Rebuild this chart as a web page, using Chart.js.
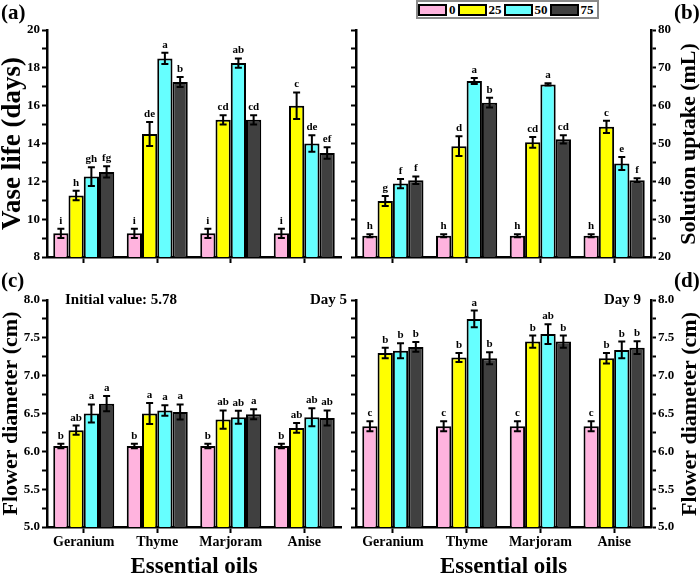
<!DOCTYPE html>
<html lang="en">
<head>
<meta charset="UTF-8">
<title>Essential oils – vase life, uptake and flower diameter</title>
<script src="https://cdn.jsdelivr.net/npm/chart.js"></script>
<style>
  body { margin: 0; background: #fff; }
  #wrap { position: relative; width: 700px; height: 575px; font-family: "Liberation Serif", serif; font-weight: bold; color: #000; }
  #wrap canvas { position: absolute; }
  .plab { position: absolute; font-size: 21px; line-height: 21px; }
  #legend { position: absolute; left: 416px; top: 0; height: 15px; border: 2px solid #8a8a8a; background: #fff;
            display: flex; align-items: center; font-size: 13px; padding-right: 1px; }
  #legend .sw { width: 25px; height: 8px; border: 2px solid #000; margin-right: 2px; }
  #legend .lt { margin-right: 2px; }
</style>
</head>
<body>
<div id="wrap">
  <canvas id="chartA" width="350" height="280" style="left:0;top:0"></canvas>
  <canvas id="chartB" width="350" height="280" style="left:350px;top:0"></canvas>
  <canvas id="chartC" width="350" height="295" style="left:0;top:280px"></canvas>
  <canvas id="chartD" width="350" height="295" style="left:350px;top:280px"></canvas>
  <div class="plab" style="left:1px;top:2px">(a)</div>
  <div class="plab" style="left:674px;top:2px">(b)</div>
  <div class="plab" style="left:1px;top:270px">(c)</div>
  <div class="plab" style="left:674px;top:270px">(d)</div>
  <div id="legend"></div>
</div>

<script>
    // categories and series (one inner array per concentration, across the oils)
    const oils = ['Geranium', 'Thyme', 'Marjoram', 'Anise'];
    const concentrations = ['0', '25', '50', '75'];
    const fills = ['#FFB3DE', '#FFFF00', '#66FFFF', '#404040'];

    const vaseLife = [
        [9.25, 9.25, 9.25, 9.25],
        [11.25, 14.5, 15.25, 16.0],
        [12.25, 18.5, 18.25, 14.0],
        [12.5, 17.25, 15.25, 13.5]
    ];
    const vaseLifeErr = [
        [0.25, 0.25, 0.25, 0.25],
        [0.25, 0.63, 0.25, 0.7],
        [0.5, 0.3, 0.25, 0.43],
        [0.3, 0.26, 0.25, 0.3]
    ];
    const vaseLifeLetters = [
        ['i', 'i', 'i', 'i'],
        ['h', 'de', 'cd', 'c'],
        ['gh', 'a', 'ab', 'de'],
        ['fg', 'b', 'cd', 'ef']
    ];

    const uptake = [
        [25.6, 25.6, 25.6, 25.6],
        [34.8, 49.3, 50.3, 54.4],
        [39.4, 66.5, 65.6, 44.7],
        [40.3, 60.8, 51.1, 40.3]
    ];
    const uptakeErr = [
        [0.4, 0.4, 0.4, 0.4],
        [1.3, 2.6, 1.45, 1.6],
        [1.2, 0.8, 0.3, 1.7],
        [1.0, 1.3, 1.1, 0.5]
    ];
    const uptakeLetters = [
        ['h', 'h', 'h', 'h'],
        ['g', 'd', 'cd', 'c'],
        ['f', 'a', 'a', 'e'],
        ['f', 'b', 'cd', 'f']
    ];

    const diamDay5 = [
        [6.07, 6.07, 6.07, 6.07],
        [6.28, 6.5, 6.42, 6.31],
        [6.5, 6.54, 6.45, 6.45],
        [6.63, 6.52, 6.49, 6.44]
    ];
    const diamDay5Err = [
        [0.03, 0.03, 0.03, 0.03],
        [0.06, 0.14, 0.12, 0.066],
        [0.12, 0.07, 0.085, 0.12],
        [0.1, 0.1, 0.065, 0.1]
    ];
    const diamDay5Letters = [
        ['b', 'b', 'b', 'b'],
        ['ab', 'a', 'ab', 'ab'],
        ['a', 'a', 'ab', 'ab'],
        ['a', 'a', 'a', 'ab']
    ];

    const diamDay9 = [
        [6.33, 6.33, 6.33, 6.33],
        [7.3, 7.24, 7.45, 7.23],
        [7.33, 7.75, 7.55, 7.34],
        [7.38, 7.23, 7.45, 7.37]
    ];
    const diamDay9Err = [
        [0.066, 0.066, 0.066, 0.066],
        [0.07, 0.06, 0.08, 0.07],
        [0.1, 0.11, 0.13, 0.11],
        [0.065, 0.08, 0.08, 0.085]
    ];
    const diamDay9Letters = [
        ['c', 'c', 'c', 'c'],
        ['b', 'b', 'b', 'b'],
        ['b', 'a', 'ab', 'b'],
        ['b', 'b', 'b', 'b']
    ];

    const FONT = '"Liberation Serif", serif';

    // error bars + significance letters
    const errorBars = {
        id: 'errorBars',
        afterDatasetsDraw(chart, args, opts) {
            if (!opts.err) return;
            const ctx = chart.ctx;
            const ys = chart.scales.y;
            ctx.save();
            ctx.strokeStyle = '#000';
            ctx.fillStyle = '#000';
            ctx.lineWidth = 2;
            ctx.font = 'bold 11px ' + FONT;
            ctx.textAlign = 'center';
            ctx.textBaseline = 'alphabetic';
            chart.data.datasets.forEach((ds, i) => {
                chart.getDatasetMeta(i).data.forEach((bar, j) => {
                    const v = ds.data[j], e = opts.err[i][j];
                    const yt = ys.getPixelForValue(v + e);
                    const yb = ys.getPixelForValue(v - e);
                    const x = bar.x;
                    ctx.beginPath();
                    ctx.moveTo(x, yt); ctx.lineTo(x, yb);
                    ctx.moveTo(x - 3.5, yt); ctx.lineTo(x + 3.5, yt);
                    ctx.moveTo(x - 3.5, yb); ctx.lineTo(x + 3.5, yb);
                    ctx.stroke();
                    ctx.fillText(opts.letters[i][j], x, yt - 5);
                });
            });
            ctx.restore();
        }
    };

    // free text (right-hand axis titles, notes)
    const panelText = {
        id: 'panelText',
        afterDraw(chart, args, opts) {
            if (!opts.items) return;
            const ctx = chart.ctx;
            opts.items.forEach(t => {
                ctx.save();
                ctx.translate(t.x, t.y);
                if (t.rotate) ctx.rotate(t.rotate);
                ctx.font = t.font;
                ctx.fillStyle = '#000';
                ctx.textAlign = t.align || 'center';
                ctx.textBaseline = 'middle';
                ctx.fillText(t.text, 0, 0);
                ctx.restore();
            });
        }
    };

    Chart.register(errorBars, panelText);

    function isMajor(v, major) {
        return Math.abs(v / major - Math.round(v / major)) < 1e-6;
    }

    function makePanel(id, p) {
        const datasets = concentrations.map((c, i) => ({
            label: c,
            data: p.values[i],
            backgroundColor: fills[i],
            borderColor: '#000',
            borderWidth: 2,
            borderSkipped: false,
            categoryPercentage: 0.83,
            barPercentage: 1,
            yAxisID: 'y'
        }));

        const border = { color: '#000', width: 2.5 };
        const grid = { drawOnChartArea: false, tickColor: '#000', tickLength: 5, tickWidth: 2 };

        const scales = {
            x: {
                type: 'category',
                border: border,
                grid: { drawOnChartArea: false, offset: false, tickColor: '#000', tickLength: 6, tickWidth: 2 },
                ticks: { display: p.showX, color: '#000', padding: 1, font: { family: FONT, size: 14, weight: 'bold' } },
                title: { display: p.showX, text: 'Essential oils', color: '#000', padding: { top: 0, bottom: -4 },
                         font: { family: FONT, size: 23, weight: 'bold', lineHeight: 1 } },
                afterFit: s => { s.height = p.xHeight; }
            },
            y: {
                position: p.side,
                min: p.min, max: p.max,
                border: border,
                grid: grid,
                ticks: {
                    stepSize: p.minor, color: '#000', padding: 2,
                    font: { family: FONT, size: 13, weight: 'bold' },
                    callback: v => isMajor(v, p.major) ? v.toFixed(p.decimals) : ''
                },
                title: { display: p.side === 'left', text: p.yTitle, color: '#000', padding: 0,
                         font: { family: FONT, size: p.yTitleSize, weight: 'bold', lineHeight: 1 } },
                afterFit: s => { s.width = p.side === 'left' ? 47 : 49; }
            }
        };
        if (p.side === 'right') {
            scales.yL = {
                position: 'left',
                min: p.min, max: p.max,
                border: border,
                grid: grid,
                ticks: { display: false, stepSize: p.minor },
                afterFit: s => { s.width = 6; }
            };
        }

        return new Chart(document.getElementById(id), {
            type: 'bar',
            data: { labels: oils, datasets: datasets },
            options: {
                responsive: false,
                animation: false,
                layout: { padding: { left: 0, top: p.top, right: p.side === 'left' ? 9 : 0, bottom: 0 } },
                scales: scales,
                plugins: {
                    legend: { display: false },
                    tooltip: { enabled: false },
                    errorBars: { err: p.err, letters: p.letters },
                    panelText: { items: p.texts }
                }
            }
        });
    }

    makePanel('chartA', {
        values: vaseLife, err: vaseLifeErr, letters: vaseLifeLetters,
        side: 'left', min: 8, max: 20, minor: 1, major: 2, decimals: 0,
        yTitle: 'Vase life (days)', yTitleSize: 27,
        top: 30, xHeight: 23, showX: false, texts: []
    });

    makePanel('chartB', {
        values: uptake, err: uptakeErr, letters: uptakeLetters,
        side: 'right', min: 20, max: 80, minor: 5, major: 10, decimals: 0,
        top: 30, xHeight: 23, showX: false,
        texts: [{ text: 'Solution uptake (mL)', x: 339, y: 144, rotate: -Math.PI / 2, font: 'bold 22px ' + FONT }]
    });

    makePanel('chartC', {
        values: diamDay5, err: diamDay5Err, letters: diamDay5Letters,
        side: 'left', min: 5, max: 8, minor: 0.25, major: 0.5, decimals: 1,
        yTitle: 'Flower diameter (cm)', yTitleSize: 22,
        top: 20, xHeight: 48, showX: true,
        texts: [
            { text: 'Initial value: 5.78', x: 65, y: 20, align: 'left', font: 'bold 15px ' + FONT },
            { text: 'Day 5', x: 347, y: 20, align: 'right', font: 'bold 15px ' + FONT }
        ]
    });

    makePanel('chartD', {
        values: diamDay9, err: diamDay9Err, letters: diamDay9Letters,
        side: 'right', min: 5, max: 8, minor: 0.25, major: 0.5, decimals: 1,
        top: 20, xHeight: 48, showX: true,
        texts: [
            { text: 'Day 9', x: 291, y: 20, align: 'right', font: 'bold 15px ' + FONT },
            { text: 'Flower diameter (cm)', x: 340, y: 134, rotate: -Math.PI / 2, font: 'bold 22px ' + FONT }
        ]
    });

    // legend
    const legend = document.getElementById('legend');
    concentrations.forEach((c, i) => {
        const sw = document.createElement('span');
        sw.className = 'sw';
        sw.style.background = fills[i];
        const lt = document.createElement('span');
        lt.className = 'lt';
        lt.textContent = c;
        legend.appendChild(sw);
        legend.appendChild(lt);
    });
</script>
</body>
</html>
